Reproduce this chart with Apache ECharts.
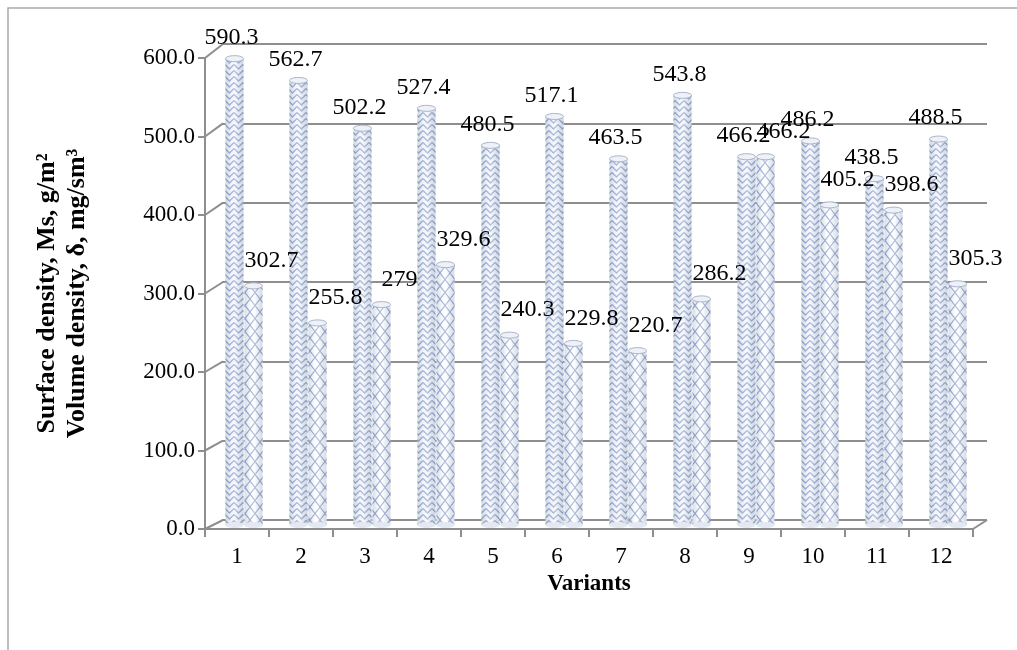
<!DOCTYPE html>
<html>
<head>
<meta charset="utf-8">
<script src="https://cdn.jsdelivr.net/npm/echarts@6/dist/echarts.min.js"></script>
<style>
html, body { margin: 0; background: #fff; }
#main { width: 1017px; height: 650px; }
</style>
</head>
<body>
<div id="main"></div>
<script>
var variants = ['1', '2', '3', '4', '5', '6', '7', '8', '9', '10', '11', '12'];
var surfaceDensity = [590.3, 562.7, 502.2, 527.4, 480.5, 517.1, 463.5, 543.8, 466.2, 486.2, 438.5, 488.5];
var volumeDensity = [302.7, 255.8, 279, 329.6, 240.3, 229.8, 220.7, 286.2, 466.2, 405.2, 398.6, 305.3];
var yTicks = [0, 100, 200, 300, 400, 500, 600];

var lineGray = '#8e8e8e';
var serif = '"Liberation Serif", "Times New Roman", serif';

var front = { left: 205, top: 58, width: 768, height: 471 };
var back = { left: 222, top: 44, width: 765, height: 476 };

// small canvas tiles for the two hatch fills
function makeTile(kind) {
    var c = document.createElement('canvas');
    var ctx = c.getContext('2d');
    if (kind === 'chevron') {
        c.width = 9; c.height = 6;
        ctx.fillStyle = '#eef2f9';
        ctx.fillRect(0, 0, 9, 6);
        ctx.strokeStyle = '#7b93c3';
        ctx.lineWidth = 1.4;
        ctx.beginPath();
        ctx.moveTo(0, -1.5); ctx.lineTo(4.5, 3); ctx.lineTo(9, -1.5);
        ctx.moveTo(0, 4.5); ctx.lineTo(4.5, 9); ctx.lineTo(9, 4.5);
        ctx.stroke();
    } else {
        c.width = 10; c.height = 13;
        ctx.fillStyle = '#fbfcfe';
        ctx.fillRect(0, 0, 10, 13);
        ctx.strokeStyle = '#7690c4';
        ctx.lineWidth = 1.1;
        ctx.beginPath();
        ctx.moveTo(0, 0); ctx.lineTo(10, 13);
        ctx.moveTo(10, 0); ctx.lineTo(0, 13);
        ctx.stroke();
    }
    return { image: c, repeat: 'repeat' };
}

var chevronFill = makeTile('chevron');
var crossFill = makeTile('cross');

function shade() {
    return new echarts.graphic.LinearGradient(0, 0, 1, 0, [
        { offset: 0, color: 'rgba(150,160,180,0.35)' },
        { offset: 0.35, color: 'rgba(255,255,255,0.35)' },
        { offset: 0.55, color: 'rgba(255,255,255,0.45)' },
        { offset: 1, color: 'rgba(150,160,180,0.35)' }
    ]);
}

function cylinder(side, fill) {
    return function (params, api) {
        var cat = api.value(0);
        var val = api.value(1);
        var top = api.coord([cat, val]);
        var base = api.coord([cat, 0]);
        var w = 18;
        var x0 = side === 0 ? top[0] - w - 0.5 : top[0] + 0.5;
        var cx = x0 + w / 2;
        var label;
        if (side === 0) {
            label = { x: cx - 3, y: top[1] - 9 };
        } else {
            label = { x: cx + 18, y: top[1] - 13 };
        }
        return {
            type: 'group',
            children: [
                { type: 'rect', shape: { x: x0, y: top[1], width: w, height: base[1] - top[1] }, style: { fill: fill } },
                { type: 'rect', shape: { x: x0, y: top[1], width: w, height: base[1] - top[1] }, style: { fill: shade() } },
                { type: 'ellipse', shape: { cx: cx, cy: base[1], rx: w / 2, ry: 3 }, style: { fill: '#e3e8f1' } },
                { type: 'ellipse', shape: { cx: cx, cy: top[1], rx: w / 2, ry: 3 },
                  style: { fill: '#eef2f8', stroke: '#a7b3c9', lineWidth: 1 } },
                { type: 'text', x: label.x, y: label.y, z2: 100,
                  style: { text: String(val), fill: '#000', fontSize: 24, fontFamily: serif,
                           align: 'center', verticalAlign: 'bottom' } }
            ]
        };
    };
}

function pairs(arr) {
    return arr.map(function (v, i) { return [i, v]; });
}

var chartDom = document.getElementById('main');
var myChart = echarts.init(chartDom);

var option = {
    animation: false,
    backgroundColor: '#fff',
    grid: [
        front,                                              // front plane
        back,                                               // back wall
        { left: 212, top: 51, width: 768, height: 474 }     // bars
    ],
    xAxis: [{
        gridIndex: 0,
        type: 'category',
        data: variants,
        axisLine: { lineStyle: { color: lineGray, width: 2 } },
        axisTick: { show: true, length: 8, lineStyle: { color: lineGray, width: 2 } },
        axisLabel: { color: '#000', fontSize: 23, fontFamily: serif, margin: 16 },
        name: 'Variants',
        nameLocation: 'middle',
        nameGap: 40,
        nameTextStyle: { color: '#000', fontSize: 23, fontWeight: 'bold', fontFamily: serif }
    }, {
        gridIndex: 1, type: 'category', data: variants, show: false
    }, {
        gridIndex: 2, type: 'category', data: variants, show: false
    }],
    yAxis: [{
        gridIndex: 0,
        type: 'value',
        min: 0, max: 600, interval: 100,
        axisLine: { show: true, lineStyle: { color: lineGray, width: 2 } },
        axisTick: { show: true, length: 7, lineStyle: { color: lineGray, width: 2 } },
        splitLine: { show: false },
        axisLabel: { color: '#000', fontSize: 23, fontFamily: serif, margin: 10,
                     formatter: function (v) { return v.toFixed(1); } },
        name: 'Surface density, Ms, g/m²\nVolume density, δ, mg/sm³',
        nameLocation: 'middle',
        nameGap: 113,
        nameRotate: 90,
        nameTextStyle: { color: '#000', fontSize: 26, fontWeight: 'bold', fontFamily: serif, lineHeight: 30 }
    }, {
        gridIndex: 1,
        type: 'value',
        min: 0, max: 600, interval: 100,
        axisLine: { show: false },
        axisTick: { show: false },
        axisLabel: { show: false },
        splitLine: { show: true, lineStyle: { color: lineGray, width: 2 } }
    }, {
        gridIndex: 2,
        type: 'value',
        min: 0, max: 600, interval: 100,
        show: false
    }],
    series: [{
        name: 'Surface density',
        type: 'custom',
        xAxisIndex: 2, yAxisIndex: 2,
        renderItem: cylinder(0, chevronFill),
        data: pairs(surfaceDensity)
    }, {
        name: 'Volume density',
        type: 'custom',
        xAxisIndex: 2, yAxisIndex: 2,
        renderItem: cylinder(1, crossFill),
        data: pairs(volumeDensity)
    }]
};

myChart.setOption(option);

// 3D frame: connectors between the front axis and the back wall, floor edge
var frame = [{
    type: 'rect', silent: true,
    shape: { x: 8, y: 8, width: 1300, height: 1000 },
    style: { fill: 'none', stroke: '#ababab', lineWidth: 1.5 }
}];
yTicks.forEach(function (v) {
    var yf = myChart.convertToPixel({ gridIndex: 0 }, [0, v])[1];
    var yb = myChart.convertToPixel({ gridIndex: 1 }, [0, v])[1];
    frame.push({
        type: 'line', silent: true, z: 5,
        shape: { x1: front.left, y1: yf, x2: back.left + 1, y2: yb },
        style: { stroke: lineGray, lineWidth: 2 }
    });
});
var yf0 = myChart.convertToPixel({ gridIndex: 0 }, [0, 0])[1];
var yb0 = myChart.convertToPixel({ gridIndex: 1 }, [0, 0])[1];
frame.push({
    type: 'line', silent: true, z: 5,
    shape: { x1: front.left + front.width, y1: yf0, x2: back.left + back.width, y2: yb0 },
    style: { stroke: lineGray, lineWidth: 2 }
});
myChart.setOption({ graphic: frame });
</script>
</body>
</html>
